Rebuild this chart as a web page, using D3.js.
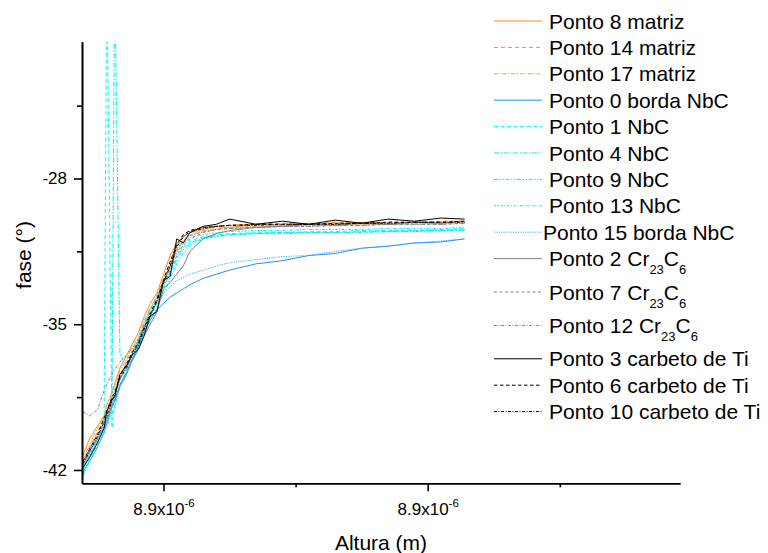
<!DOCTYPE html>
<html>
<head>
<meta charset="utf-8">
<script src="https://cdn.jsdelivr.net/npm/d3@7"></script>
<style>
  body { margin: 0; background: #fff; }
  text { font-family: "Liberation Sans", Arial, sans-serif; fill: #000; }
</style>
</head>
<body>
<div id="chart"></div>
<script>
// Altura (x) shared by all the curves, in micrometres
var altura = [8.89339, 8.89344, 8.8935, 8.89355, 8.89357, 8.89361, 8.89363, 8.89367, 8.89372, 8.89376,
  8.89381, 8.89385, 8.8939, 8.89395, 8.894, 8.89405, 8.8941, 8.89415, 8.8942, 8.8943,
  8.8944, 8.8945, 8.8947, 8.8949, 8.8951, 8.8953, 8.8955, 8.8957, 8.8959, 8.8961, 8.89628];

// fase (graus) for each point
var ponto8 = [-41.3, -40.5, -39.9, -39.4, -38.9, -38.3, -37.9, -37.1, -36.5, -36.0, -35.4, -34.7, -34.0, -33.5, -32.6, -31.7, -31.1, -30.8, -30.6, -30.45, -30.3, -30.35, -30.2, -30.25, -30.15, -30.2, -30.1, -30.2, -30.1, -30.15, -30.05];
var ponto14 = [-41.6, -40.9, -40.2, -39.6, -39.2, -38.6, -38.3, -37.5, -36.8, -36.3, -35.8, -35.0, -34.3, -33.6, -32.8, -32.0, -31.2, -30.7, -30.5, -30.35, -30.3, -30.25, -30.2, -30.15, -30.2, -30.1, -30.15, -30.1, -30.1, -30.05, -30.05];
var ponto17 = [-41.5, -40.8, -40.0, -39.5, -39.1, -38.5, -38.1, -37.2, -36.7, -36.1, -35.6, -34.9, -34.2, -33.7, -32.9, -32.2, -31.4, -30.95, -30.7, -30.5, -30.4, -30.35, -30.3, -30.25, -30.25, -30.2, -30.2, -30.2, -30.15, -30.15, -30.1];
var ponto0 = [-42.1, -41.6, -40.9, -40.2, -39.8, -39.0, -38.7, -37.9, -37.3, -36.7, -36.1, -35.4, -34.8, -34.3, -34.0, -33.7, -33.5, -33.3, -33.1, -32.8, -32.6, -32.4, -32.1, -31.95, -31.7, -31.6, -31.35, -31.25, -31.1, -31.05, -30.9];
var ponto1 = [-42.2, -41.5, -40.8, -40.3, -18.0, -40.0, -38.9, -37.9, -37.2, -36.6, -36.0, -35.3, -34.6, -34.0, -33.3, -32.5, -31.8, -31.3, -31.0, -30.8, -30.7, -30.65, -30.6, -30.6, -30.55, -30.55, -30.5, -30.5, -30.5, -30.45, -30.4];
var ponto4 = [-42.0, -41.3, -40.6, -40.0, -39.7, -38.9, -18.0, -36.4, -37.0, -36.5, -35.9, -35.2, -34.5, -33.9, -33.2, -32.5, -31.9, -31.4, -31.1, -30.85, -30.75, -30.7, -30.65, -30.6, -30.6, -30.6, -30.55, -30.55, -30.5, -30.5, -30.45];
var ponto9 = [-42.3, -41.6, -40.9, -40.2, -39.9, -39.3, -39.0, -38.0, -37.4, -36.8, -36.2, -35.5, -34.8, -34.2, -33.5, -32.8, -32.1, -31.6, -31.2, -30.9, -30.8, -30.7, -30.65, -30.65, -30.6, -30.6, -30.6, -30.55, -30.55, -30.5, -30.5];
var ponto13 = [-42.0, -41.2, -40.5, -39.8, -39.5, -38.9, -38.5, -37.6, -37.0, -36.4, -35.7, -35.0, -34.3, -33.7, -33.0, -32.3, -31.6, -31.1, -30.85, -30.7, -30.6, -30.55, -30.5, -30.5, -30.45, -30.45, -30.45, -30.4, -30.4, -30.4, -30.35];
var ponto15 = [-41.9, -41.3, -40.6, -40.0, -39.6, -38.9, -38.5, -37.7, -37.1, -36.5, -35.9, -35.2, -34.6, -34.0, -33.5, -33.2, -32.9, -32.75, -32.6, -32.4, -32.2, -32.05, -31.9, -31.75, -31.7, -31.5, -31.35, -31.25, -31.1, -31.0, -30.9];
var ponto2 = [-41.8, -41.1, -40.5, -39.9, -39.6, -38.9, -38.7, -38.0, -37.4, -36.8, -36.2, -35.6, -35.0, -34.4, -33.3, -33.0, -32.6, -32.2, -31.5, -30.9, -30.65, -30.5, -30.35, -30.3, -30.2, -30.25, -30.15, -30.2, -30.1, -30.15, -30.05];
var ponto7 = [-41.7, -41.0, -40.3, -39.7, -39.4, -38.7, -38.4, -37.6, -37.0, -36.4, -35.8, -35.2, -34.5, -33.9, -33.1, -32.4, -31.7, -31.2, -30.9, -30.6, -30.45, -30.4, -30.35, -30.3, -30.3, -30.25, -30.25, -30.2, -30.2, -30.2, -30.15];
var ponto12 = [-39.2, -39.4, -39.1, -38.2, -37.9, -37.4, -37.2, -36.8, -36.5, -36.2, -35.7, -35.1, -34.4, -33.8, -33.0, -32.2, -31.5, -31.0, -30.75, -30.55, -30.45, -30.4, -30.35, -30.3, -30.3, -30.25, -30.25, -30.2, -30.2, -30.2, -30.15];
var ponto3 = [-41.9, -41.4, -40.7, -40.0, -39.2, -38.6, -38.5, -37.4, -37.0, -36.5, -36.2, -35.6, -34.6, -34.4, -32.9, -32.7, -30.9, -31.1, -30.6, -30.3, -30.2, -29.95, -30.2, -30.05, -30.2, -30.0, -30.15, -29.95, -30.05, -29.9, -29.95];
var ponto6 = [-41.6, -41.0, -40.3, -39.5, -39.2, -38.5, -38.3, -37.5, -36.9, -36.4, -35.9, -35.2, -34.5, -33.8, -32.9, -32.0, -31.2, -30.7, -30.5, -30.35, -30.3, -30.25, -30.2, -30.2, -30.2, -30.15, -30.15, -30.1, -30.1, -30.1, -30.05];
var ponto10 = [-41.7, -41.1, -40.4, -39.7, -39.4, -38.7, -38.4, -37.6, -37.1, -36.5, -36.0, -35.3, -34.6, -33.9, -33.0, -32.2, -31.3, -30.8, -30.55, -30.4, -30.3, -30.25, -30.25, -30.2, -30.2, -30.2, -30.15, -30.15, -30.1, -30.1, -30.1];

// legend labels, "_" marks a subscript
var labels = ["Ponto 8 matriz", "Ponto 14 matriz", "Ponto 17 matriz", "Ponto 0 borda NbC",
  "Ponto 1 NbC", "Ponto 4 NbC", "Ponto 9 NbC", "Ponto 13 NbC", "Ponto 15 borda NbC",
  "Ponto 2 Cr_23C_6", "Ponto 7 Cr_23C_6", "Ponto 12 Cr_23C_6",
  "Ponto 3 carbeto de Ti", "Ponto 6 carbeto de Ti", "Ponto 10 carbeto de Ti"];
var yTicks = [-42, -35, -28];
var yMinor = [-38.5, -31.5, -24.5];
var xTicks = [8.894, 8.896];
var xMinor = [8.895, 8.897];

var seriesValues = [ponto8, ponto14, ponto17, ponto0, ponto1, ponto4, ponto9, ponto13, ponto15,
  ponto2, ponto7, ponto12, ponto3, ponto6, ponto10];
var colors = ["#ff8a1c", "#ff8a1c", "#ff9c40", "#1e90ff", "#00ffff", "#00f0f0", "#00e8f0", "#00e8f0", "#3ca8ff",
  "#808080", "#808080", "#808080", "#000000", "#000000", "#000000"];
var dashes = [null, "4,3", "4,1.5,1.5,1.5", null, "4,2.5", "5,1.5,1.5,1.5", "4,1.5,1.5,1.5,1.5,1.5", "2.5,1.5,1,1.5", "1.2,1.2",
  null, "3,2.5", "3,1.5,1,1.5", null, "3.5,2.5", "3,1.5,1,1.5"];

var svgWidth = 768;
var svgHeight = 553;
var margin = { top: 41.7, left: 82 };
var plotRight = 680;
var plotBottom = 483.3;

var svg = d3.select("#chart")
  .append("svg")
  .attr("width", svgWidth)
  .attr("height", svgHeight);

var xScale = d3.scaleLinear()
  .domain([8.893383, 8.89791])
  .range([margin.left, plotRight]);
var yScale = d3.scaleLinear()
  .domain([-42.64, -21.43])
  .range([plotBottom, margin.top]);

svg.append("clipPath").attr("id", "plotClip")
  .append("rect")
  .attr("x", margin.left).attr("y", margin.top)
  .attr("width", plotRight - margin.left).attr("height", plotBottom - margin.top);

// the curves
var line = d3.line()
  .x(function(d, i) { return xScale(altura[i]); })
  .y(function(d) { return yScale(d); });

var curves = svg.append("g").attr("clip-path", "url(#plotClip)");
seriesValues.forEach(function(vals, k) {
  curves.append("path")
    .attr("d", line(vals))
    .attr("fill", "none")
    .attr("stroke", colors[k])
    .attr("stroke-width", 1)
    .attr("stroke-dasharray", dashes[k]);
});

// y axis
svg.append("g")
  .attr("transform", "translate(" + margin.left + ",0)")
  .call(d3.axisLeft(yScale).tickValues(yTicks).tickSize(8).tickSizeOuter(0).tickPadding(7)
    .tickFormat(function(d) { return String(d); }));
svg.append("g")
  .attr("transform", "translate(" + margin.left + ",0)")
  .call(d3.axisLeft(yScale).tickValues(yMinor).tickSize(5).tickSizeOuter(0).tickFormat(""));

// x axis
var xAxis = svg.append("g")
  .attr("transform", "translate(0," + plotBottom + ")")
  .call(d3.axisBottom(xScale).tickValues(xTicks).tickSize(8).tickSizeOuter(0).tickFormat(""));
svg.append("g")
  .attr("transform", "translate(0," + plotBottom + ")")
  .call(d3.axisBottom(xScale).tickValues(xMinor).tickSize(4).tickSizeOuter(0).tickFormat(""));

xAxis.selectAll(".tick text")
  .attr("dy", null)
  .attr("y", 32)
  .each(function() {
    var t = d3.select(this);
    t.append("tspan").text("8.9x10");
    t.append("tspan").attr("dy", -8).attr("font-size", "11.5px").text("-6");
  });

svg.selectAll(".domain, .tick line")
  .attr("stroke", "#000")
  .attr("stroke-width", 1.6);
svg.selectAll(".tick text")
  .attr("font-family", "Liberation Sans, Arial, sans-serif")
  .attr("font-size", "17px")
  .attr("fill", "#000");

// axis titles
svg.append("text")
  .attr("x", (margin.left + plotRight) / 2)
  .attr("y", 550)
  .attr("text-anchor", "middle")
  .attr("font-size", "21px")
  .text("Altura (m)");
svg.append("text")
  .attr("transform", "translate(31,255) rotate(-90)")
  .attr("text-anchor", "middle")
  .attr("font-size", "21px")
  .text("fase (°)");

// legend
var legend = svg.append("g");
var rowY = 21;
labels.forEach(function(lab, k) {
  if (k > 0) {
    rowY += 26.4 + (labels[k - 1].indexOf("_") >= 0 ? 7 : 0);
  }
  legend.append("line")
    .attr("x1", 494).attr("x2", 542)
    .attr("y1", rowY).attr("y2", rowY)
    .attr("stroke", colors[k])
    .attr("stroke-width", 1)
    .attr("stroke-dasharray", dashes[k]);
  var txt = legend.append("text")
    .attr("x", k === 8 ? 543 : 549)
    .attr("y", rowY + 7.5)
    .attr("font-size", "21px");
  var parts = lab.split(/_(\d+)/);
  parts.forEach(function(p, j) {
    if (p === "") return;
    if (j % 2 === 1) {
      txt.append("tspan").attr("dy", 8).attr("font-size", "13px").text(p);
    } else {
      var ts = txt.append("tspan").text(p);
      if (j > 0) ts.attr("dy", -8);
    }
  });
});
</script>
</body>
</html>
